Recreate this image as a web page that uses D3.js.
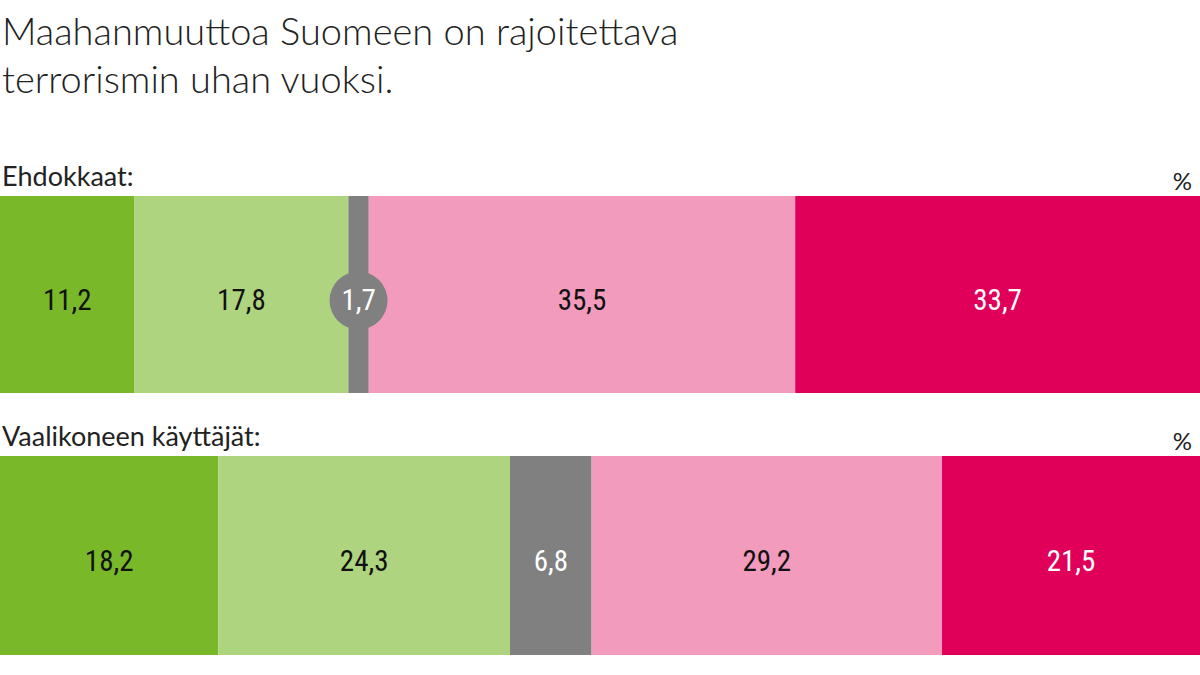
<!DOCTYPE html><html><head><meta charset="utf-8"><script src="https://cdn.jsdelivr.net/npm/d3@7"></script>
<style>body{margin:0;background:#fff}</style></head><body><svg id="c" width="1200" height="675"></svg>
<script>
const titleLines=["Maahanmuuttoa Suomeen on rajoitettava","terrorismin uhan vuoksi."];
const groups=["Ehdokkaat:","Vaalikoneen käyttäjät:"];
const ehdokkaat=[11.2,17.8,1.7,35.5,33.7];
const kayttajat=[18.2,24.3,6.8,29.2,21.5];
const colors=["#79b829","#aed47f","#808080","#f29bbd","#e0005a"];
const textColors=["#111","#111","#fff","#111","#fff"];
const svg=d3.select("#c");
const font="'Liberation Sans Narrow','Roboto Condensed','Open Sans',sans-serif";
svg.selectAll("text.t").data(titleLines).join("text").attr("x",2).attr("y",(d,i)=>45+i*48)
 .attr("font-family","Lato,'Open Sans',sans-serif").attr("font-weight",300).attr("font-size",38).attr("fill","#222").text(d=>d);
const rows=[{label:groups[0],vals:ehdokkaat,y0:196,y1:393},{label:groups[1],vals:kayttajat,y0:456,y1:655}];
rows.forEach(r=>{
 const total=d3.sum(r.vals);
 const x=d3.scaleLinear().domain([0,total]).range([0,1200]);
 let cum=0;const segs=r.vals.map((v,i)=>{const s={v,i,a:cum,b:cum+v};cum+=v;return s;});
 svg.append("text").attr("x",2).attr("y",r.y0-10).attr("font-family","Lato,sans-serif").attr("font-size",27).attr("fill","#222").text(r.label);
 svg.append("text").attr("x",1192).attr("y",r.y0-6).attr("text-anchor","end").attr("font-family","Lato,sans-serif").attr("font-size",24).attr("fill","#222").text("%");
 const g=svg.append("g");
 g.selectAll("rect").data(segs).join("rect").attr("x",d=>x(d.a)).attr("width",d=>x(d.b)-x(d.a)).attr("y",r.y0).attr("height",r.y1-r.y0).attr("fill",d=>colors[d.i]);
 const cy=(r.y0+r.y1)/2;
 segs.forEach(d=>{
  const cx=(x(d.a)+x(d.b))/2;
  if(x(d.b)-x(d.a)<40) g.append("circle").attr("cx",cx).attr("cy",cy+6).attr("r",29).attr("fill",colors[d.i]);
  g.append("text").attr("x",cx).attr("y",cy+15).attr("text-anchor","middle").attr("font-family",font).attr("font-size",29)
   .attr("fill",textColors[d.i]).text(String(d.v).replace(".",","));
 });
});
</script></body></html>
